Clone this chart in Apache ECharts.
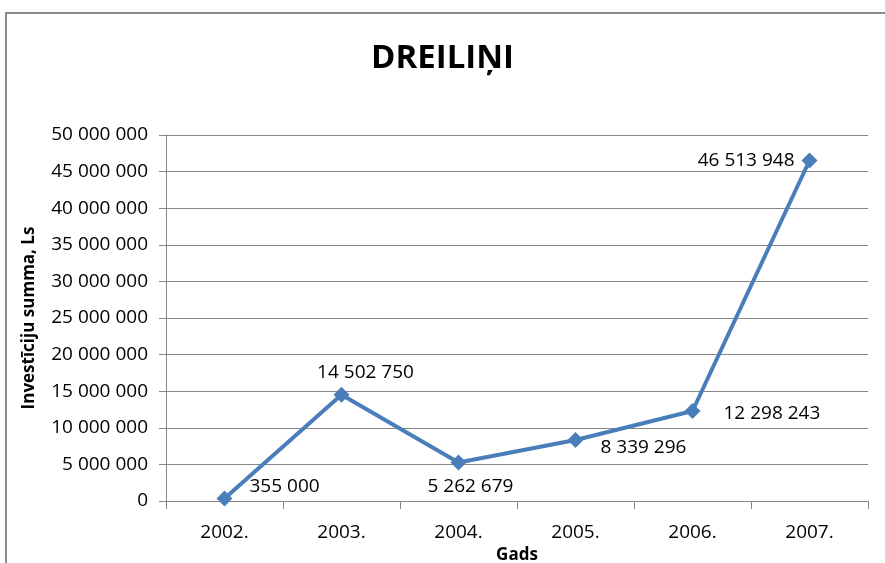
<!DOCTYPE html>
<html>
<head>
<meta charset="utf-8">
<script src="https://cdn.jsdelivr.net/npm/echarts@6/dist/echarts.min.js"></script>
<style>
  html, body { margin: 0; padding: 0; background: #fff; }
  #chart { width: 885px; height: 563px; }
</style>
</head>
<body>
<div id="chart"></div>
<script>
const years = ['2002.', '2003.', '2004.', '2005.', '2006.', '2007.']
const investments = [355000, 14502750, 5262679, 8339296, 12298243, 46513948]
const yTicks = { min: 0, max: 50000000, interval: 5000000 }

// label placement per point (style only)
const labelPlace = [
  { position: 'right', offset: [12, -12] },
  { position: 'top', offset: [24, 0] },
  { position: 'bottom', offset: [12, 2] },
  { position: 'right', offset: [12, 8] },
  { position: 'right', offset: [18, 3] },
  { position: 'left', offset: [-2, 0] }
]

const fontFamily = '"Open Sans", "Noto Sans", sans-serif'
const fmt = v => String(v).replace(/\B(?=(\d{3})+(?!\d))/g, ' ')

const myChart = echarts.init(document.getElementById('chart'))
const option = {
  backgroundColor: '#fff',
  animation: false,
  textStyle: { fontFamily },
  title: {
    text: 'DREILIŅI',
    left: 'center',
    top: 37,
    textStyle: { fontSize: 33, fontWeight: 'bold', color: '#000', fontFamily }
  },
  graphic: [{
    type: 'rect',
    shape: { x: 6, y: 13, width: 900, height: 600 },
    style: { fill: 'none', stroke: '#8c8c8c', lineWidth: 2 },
    silent: true
  }],
  grid: { left: 166, right: 17, top: 135, bottom: 62, outerBoundsMode: 'none' },
  xAxis: {
    type: 'category',
    data: years,
    boundaryGap: true,
    name: 'Gads',
    nameLocation: 'middle',
    nameGap: 44,
    nameTextStyle: { fontSize: 17, fontWeight: 'bold', color: '#000' },
    axisLine: { lineStyle: { color: '#868686', width: 1 } },
    axisTick: { show: true, length: 8, lineStyle: { color: '#868686' } },
    axisLabel: { color: '#000', fontSize: 19, margin: 22 }
  },
  yAxis: {
    type: 'value',
    min: yTicks.min,
    max: yTicks.max,
    interval: yTicks.interval,
    name: 'Investīciju summa, Ls',
    nameLocation: 'middle',
    nameGap: 128,
    nameTextStyle: { fontSize: 17, fontWeight: 'bold', color: '#000' },
    axisLine: { show: true, lineStyle: { color: '#868686', width: 1 } },
    axisTick: { show: true, length: 7, lineStyle: { color: '#868686' } },
    axisLabel: { color: '#000', fontSize: 19, margin: 18, formatter: fmt },
    splitLine: { lineStyle: { color: '#868686', width: 1 } }
  },
  series: [{
    type: 'line',
    data: investments.map((v, i) => ({
      value: v,
      label: Object.assign({}, labelPlace[i])
    })),
    symbol: 'diamond',
    symbolSize: 16,
    color: '#4a7ebb',
    lineStyle: { width: 4, color: '#4a7ebb' },
    itemStyle: { color: '#4a7ebb' },
    label: {
      show: true,
      color: '#000',
      fontSize: 19,
      formatter: p => fmt(p.value)
    }
  }]
}
myChart.setOption(option, true)
</script>
</body>
</html>
